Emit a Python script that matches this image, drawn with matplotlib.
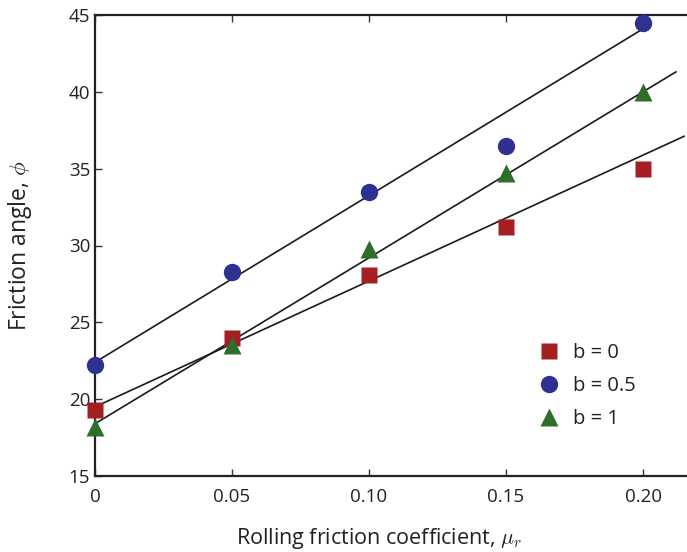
import numpy as np
import matplotlib.pyplot as plt

# rolling friction coefficient
mu_r = [0.0, 0.05, 0.10, 0.15, 0.20]

# friction angle for each b
phi_b0 = [19.3, 24.0, 28.1, 31.2, 35.0]
phi_b05 = [22.2, 28.3, 33.5, 36.5, 44.5]
phi_b1 = [18.2, 23.5, 29.8, 34.7, 40.0]

# straight-line fits: intercept, slope, end of line
fit_b0 = [19.5, 81.9, 0.215]
fit_b05 = [22.4, 108.5, 0.20]
fit_b1 = [18.4, 108.0, 0.212]

xticks = [0, 0.05, 0.10, 0.15, 0.20]
xticklabels = ['0', '0.05', '0.10', '0.15', '0.20']
yticks = [15, 20, 25, 30, 35, 40, 45]

plt.rcParams['font.family'] = ['Open Sans', 'DejaVu Sans']
plt.rcParams['mathtext.fontset'] = 'cm'

fig = plt.figure(figsize=(6.87, 5.52), dpi=100)
ax = fig.add_axes([95 / 687, 1 - 476 / 552, 1 - 95 / 687, (476 - 15) / 552])

for fit in (fit_b0, fit_b05, fit_b1):
    xs = np.array([0.0, fit[2]])
    ax.plot(xs, fit[0] + fit[1] * xs, color='#1a1a1a', lw=1.2, zorder=2)

h0, = ax.plot(mu_r, phi_b0, 's', color='#a51e22', ms=11, mec='none',
              clip_on=False, zorder=3, label='b = 0')
h1, = ax.plot(mu_r, phi_b05, 'o', color='#2e3192', ms=12.5, mec='none',
              clip_on=False, zorder=3, label='b = 0.5')
h2, = ax.plot(mu_r, phi_b1, '^', color='#2f6e2a', ms=13, mec='none',
              clip_on=False, zorder=3, label='b = 1')

ax.set_xlim(0, (687 - 95) / 2740)
ax.set_ylim(15, 45)
ax.set_xticks(xticks)
ax.set_xticklabels(xticklabels)
ax.set_yticks(yticks)
ax.tick_params(direction='in', length=5, width=1, labelsize=13.5,
               top=True, color='#333333', labelcolor='#222222')
ax.tick_params(axis='x', pad=9)
ax.spines['right'].set_visible(False)
for side in ('left', 'bottom', 'top'):
    ax.spines[side].set_linewidth(1.6)
    ax.spines[side].set_color('#222222')

ax.set_xlabel(r'Rolling friction coefficient, $\mu_r$', fontsize=15.5,
              color='#222222')
ax.set_ylabel(r'Friction angle, $\phi$', fontsize=16.5, color='#222222')
ax.xaxis.set_label_coords(0.48, -0.108)
ax.yaxis.set_label_coords(-0.103, 0.5)

leg = ax.legend(handles=[h0, h1, h2], loc='upper left', frameon=False,
                bbox_to_anchor=(519 / 687, 1 - 325 / 552),
                bbox_transform=fig.transFigure, fontsize=14.5,
                handletextpad=0.6, labelspacing=0.65, handlelength=1.2)
for t in leg.get_texts():
    t.set_color('#222222')

fig.savefig('out.png', dpi=100)
